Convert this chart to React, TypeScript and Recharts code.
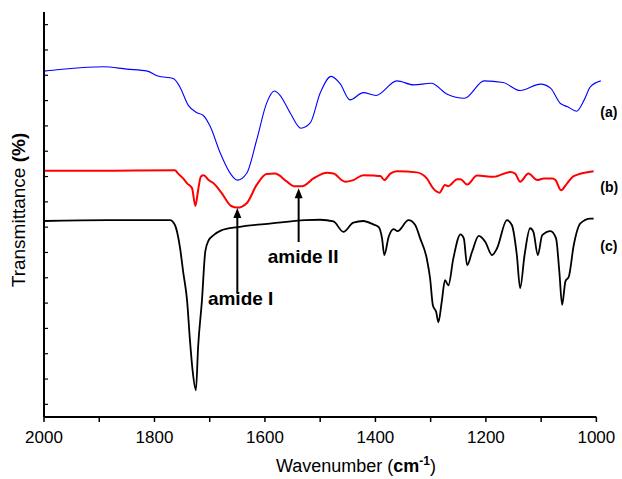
import React from 'react';
import { LineChart, Line, XAxis, YAxis, ReferenceLine, ReferenceDot, Label } from 'recharts';

// FTIR spectra: [wavenumber (cm-1), transmittance (%)]
const spectrumA: [number, number][] = [
  [2000, 85.4], [1971, 85.8], [1893, 86.5], [1850, 85.9], [1813, 85.4], [1794, 84.2], [1766, 83.6],
  [1754, 81.5], [1739, 77.0], [1723, 75.1], [1712, 74.5], [1699, 71.7], [1681, 65.2], [1663, 60.2],
  [1650, 58.5], [1633, 60.2], [1615, 68.4], [1597, 77.5], [1583, 80.5], [1573, 79.5], [1554, 75.0],
  [1535, 71.3], [1518, 72.6], [1500, 80.0], [1480, 84.1], [1464, 82.3], [1446, 78.3], [1422, 80.1],
  [1399, 79.4], [1361, 83.0], [1331, 82.0], [1299, 82.4], [1270, 79.7], [1239, 78.7], [1203, 83.0],
  [1169, 82.6], [1138, 80.6], [1101, 82.2], [1083, 81.2], [1065, 77.4], [1052, 76.6], [1036, 75.5],
  [1022, 78.3], [1011, 81.5], [992, 83.0],
];

const spectrumB: [number, number][] = [
  [2000, 60.8], [1886, 60.8], [1763, 60.9], [1757, 60.1], [1748, 58.9], [1741, 57.7], [1732, 56.5],
  [1726, 52.1], [1721, 56.0], [1716, 59.4], [1711, 59.7], [1702, 58.5], [1693, 57.7], [1678, 55.2],
  [1661, 52.1], [1650, 51.7], [1633, 52.8], [1615, 57.3], [1597, 60.0], [1582, 60.1], [1560, 58.1],
  [1548, 57.0], [1533, 57.0], [1512, 58.9], [1488, 60.3], [1476, 60.1], [1455, 58.1], [1440, 58.5],
  [1422, 59.7], [1403, 59.6], [1391, 59.5], [1384, 58.5], [1373, 60.1], [1361, 60.7], [1325, 60.4],
  [1307, 58.9], [1295, 56.4], [1284, 55.4], [1274, 57.3], [1268, 57.0], [1252, 58.7], [1246, 58.7],
  [1234, 57.4], [1216, 59.6], [1186, 59.3], [1156, 60.5], [1147, 60.1], [1138, 58.1], [1123, 60.1],
  [1107, 58.5], [1095, 58.9], [1080, 58.9], [1074, 58.5], [1064, 56.0], [1053, 57.7], [1041, 59.5],
  [1005, 60.7],
];

const spectrumC: [number, number][] = [
  [2000, 48.4], [1886, 48.6], [1772, 48.6], [1763, 47.4], [1754, 42.0], [1748, 35.8], [1741, 28.8],
  [1736, 19.4], [1731, 11.5], [1725, 6.6], [1721, 17.3], [1714, 28.9], [1708, 40.9], [1702, 43.6],
  [1693, 44.9], [1679, 46.1], [1649, 46.9], [1588, 47.8], [1527, 48.6], [1500, 48.7], [1476, 48.3],
  [1458, 45.7], [1440, 48.0], [1422, 48.4], [1403, 47.5], [1394, 46.9], [1388, 44.1], [1384, 40.0],
  [1376, 44.5], [1367, 46.4], [1360, 45.9], [1340, 48.6], [1328, 47.4], [1319, 44.1], [1307, 39.1],
  [1301, 34.2], [1296, 27.6], [1290, 25.9], [1286, 23.4], [1280, 28.4], [1274, 33.8], [1268, 32.5],
  [1259, 39.1], [1246, 45.1], [1240, 44.1], [1234, 37.5], [1225, 40.8], [1213, 44.7], [1201, 43.2],
  [1189, 40.0], [1180, 41.6], [1162, 48.6], [1153, 47.4], [1144, 40.0], [1138, 31.8], [1130, 40.0],
  [1120, 46.6], [1114, 45.7], [1106, 40.0], [1098, 44.9], [1083, 45.9], [1073, 44.1], [1067, 35.8],
  [1062, 27.7], [1056, 33.5], [1050, 34.6], [1041, 42.4], [1029, 47.8], [1011, 49.0], [1005, 49.0],
];

const xTicks = [2000, 1900, 1800, 1700, 1600, 1500, 1400, 1300, 1200, 1100, 1000];
const yTicks = Array.from({ length: 16 }, (_, i) => 3.125 + i * 6.25);

// Series tags placed just right of the spectra
const seriesTags = [
  { text: '(a)', w: 993, t: 75.3 },
  { text: '(b)', w: 993, t: 56.8 },
  { text: '(c)', w: 993, t: 42.2 },
];

// Band assignments: arrow from tail to tip, label anchor
const bands = [
  { text: 'amide I', w: 1650, tail: 30.6, tip: 51.6, labelW: 1644, labelT: 27.7 },
  { text: 'amide II', w: 1539, tail: 43.2, tip: 56.5, labelW: 1531, labelT: 38.0 },
];

const toPoints = (s: [number, number][]) => s.map(([w, t]) => ({ w, t }));

const FONT = '"Liberation Sans", Arial, Helvetica, sans-serif';

const Arrow = (props: any) => {
  const { x1, y1, x2, y2 } = props;
  const tipY = Math.min(y1, y2);
  const tailY = Math.max(y1, y2);
  const x = x1;
  const head = 10;
  const half = 4;
  return (
    <g>
      <line x1={x} y1={tailY} x2={x} y2={tipY + head - 1} stroke="#000" strokeWidth={2} />
      <polygon points={`${x},${tipY} ${x - half},${tipY + head} ${x + half},${tipY + head}`} fill="#000" />
    </g>
  );
};

export default function App() {
  return (
    <div style={{ position: 'absolute', left: 0, top: 0, fontFamily: FONT }}>
      <LineChart width={622} height={479} margin={{ top: 12, right: 19, bottom: 0, left: 44 }}>
        <XAxis
          type="number"
          dataKey="w"
          domain={[988, 2000]}
          reversed
          ticks={xTicks}
          interval={0}
          tickSize={5}
          tickMargin={9}
          axisLine={false}
          tickLine={{ stroke: '#000', strokeWidth: 1.5 }}
          tick={{ fill: '#000', fontSize: 17, fontFamily: FONT }}
          tickFormatter={(v: number) => (v % 200 === 0 ? String(v) : '')}
          height={62}
        >
          <Label
            content={() => (
              <text x={356} y={472} textAnchor="middle" fontSize={18} fontFamily={FONT} fill="#000">
                Wavenumber (<tspan fontWeight="bold">cm</tspan>
                <tspan fontWeight="bold" fontSize={12} dy={-7}>-1</tspan>
                <tspan dy={7}>)</tspan>
              </text>
            )}
          />
        </XAxis>
        <YAxis
          type="number"
          domain={[0, 100]}
          ticks={yTicks}
          interval={0}
          mirror
          tick={{ fontSize: 1, fill: 'none' }}
          tickFormatter={() => ''}
          tickSize={4}
          tickLine={{ stroke: '#000', strokeWidth: 1.2 }}
          axisLine={{ stroke: '#000', strokeWidth: 2 }}
          width={44}
        >
          <Label
            content={() => (
              <text
                transform="translate(25,210) rotate(-90)"
                textAnchor="middle"
                fontSize={19}
                fontFamily={FONT}
                fill="#000"
              >
                Transmittance <tspan fontWeight="bold">(%)</tspan>
              </text>
            )}
          />
        </YAxis>
        <ReferenceLine
          segment={[{ x: 2000, y: 0 }, { x: 1000, y: 0 }]}
          stroke="#000"
          strokeWidth={2}
        />
        <Line
          data={toPoints(spectrumA)}
          dataKey="t"
          type="monotone"
          stroke="#0000ff"
          strokeWidth={1.1}
          dot={false}
          isAnimationActive={false}
        />
        <Line
          data={toPoints(spectrumB)}
          dataKey="t"
          type="monotone"
          stroke="#ff0000"
          strokeWidth={2}
          dot={false}
          isAnimationActive={false}
        />
        <Line
          data={toPoints(spectrumC)}
          dataKey="t"
          type="monotone"
          stroke="#000000"
          strokeWidth={1.8}
          dot={false}
          isAnimationActive={false}
        />
        {bands.map((b) => (
          <ReferenceLine
            key={b.text + '-arrow'}
            segment={[{ x: b.w, y: b.tail }, { x: b.w, y: b.tip }]}
            shape={Arrow}
          />
        ))}
        {bands.map((b) => (
          <ReferenceDot
            key={b.text + '-label'}
            x={b.labelW}
            y={b.labelT}
            ifOverflow="visible"
            shape={(p: any) => (
              <text x={p.cx} y={p.cy} textAnchor="middle" fontSize={19} fontWeight="bold" fontFamily={FONT} fill="#000">
                {b.text}
              </text>
            )}
          />
        ))}
        {seriesTags.map((s) => (
          <ReferenceDot
            key={s.text}
            x={s.w}
            y={s.t}
            ifOverflow="visible"
            shape={(p: any) => (
              <text x={p.cx} y={p.cy} dominantBaseline="central" fontSize={14} fontWeight="bold" fontFamily={FONT} fill="#000">
                {s.text}
              </text>
            )}
          />
        ))}
      </LineChart>
    </div>
  );
}
